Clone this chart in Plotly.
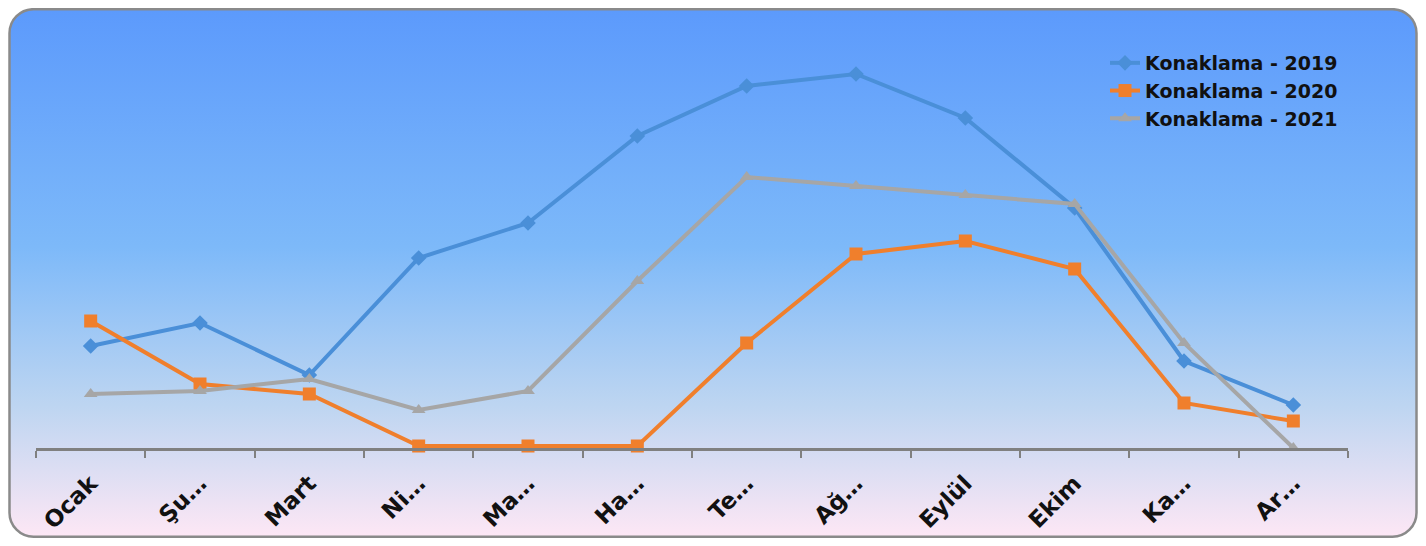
import plotly.graph_objects as go
import urllib.parse

months = ["Ocak", "Şubat", "Mart", "Nisan", "Mayıs", "Haziran", "Temmuz",
          "Ağustos", "Eylül", "Ekim", "Kasım", "Aralık"]
tick_labels = ["Ocak", "Şu…", "Mart", "Ni…", "Ma…", "Ha…", "Te…",
               "Ağ…", "Eylül", "Ekim", "Ka…", "Ar…"]
konaklama_2019 = [102, 125, 73, 190, 225, 312, 362, 374, 330, 240, 87, 43]
konaklama_2020 = [127, 64, 54, 2, 2, 2, 105, 194, 207, 179, 45, 27]
konaklama_2021 = [54, 57, 69, 38, 57, 167, 271, 262, 253, 244, 105, 0]

# page has an 8px body margin; figure fills the rest of the 1426x546 window
W, H = 1410, 530
ml, mr, mt, mb = 28, 70, 40, 90
pw, ph = W - ml - mr, H - mt - mb

svg = f'''<svg xmlns="http://www.w3.org/2000/svg" width="{W}" height="{H}" viewBox="0 0 {W} {H}">
<defs><linearGradient id="g" x1="0" y1="0" x2="0" y2="1">
<stop offset="0" stop-color="#5c9afc"/>
<stop offset="0.45" stop-color="#7db9f9"/>
<stop offset="0.75" stop-color="#bdd5f1"/>
<stop offset="1" stop-color="#fde7f5"/>
</linearGradient></defs>
<rect x="1.5" y="1.2" width="1407" height="527.5" rx="24" ry="24" fill="url(#g)" stroke="#8a8a8a" stroke-width="2.5"/>
</svg>'''
bg_src = "data:image/svg+xml;charset=utf-8," + urllib.parse.quote(svg)

fig = go.Figure()
fig.add_trace(go.Scatter(x=months, y=konaklama_2019, name="Konaklama - 2019",
                         mode="lines+markers", legendgroup="a",
                         line=dict(color="#4a8fd8", width=4),
                         marker=dict(symbol="diamond", size=12, color="#4a8fd8"),
                         cliponaxis=False))
fig.add_trace(go.Scatter(x=months, y=konaklama_2020, name="Konaklama - 2020",
                         mode="lines+markers", legendgroup="b",
                         line=dict(color="#f07f2c", width=4),
                         marker=dict(symbol="square", size=13, color="#f07f2c"),
                         cliponaxis=False))
fig.add_trace(go.Scatter(x=months, y=konaklama_2021, name="Konaklama - 2021",
                         mode="lines+markers", legendgroup="c",
                         line=dict(color="#a6a6a6", width=4),
                         marker=dict(symbol="triangle-up", size=12, color="#a6a6a6"),
                         cliponaxis=False))

fig.update_layout(
    width=W, height=H,
    margin=dict(l=ml, r=mr, t=mt, b=mb, autoexpand=False),
    paper_bgcolor="white",
    plot_bgcolor="rgba(0,0,0,0)",
    font=dict(family="DejaVu Sans", color="#111111"),
    showlegend=True,
    legend=dict(x=(1097 - ml) / pw, y=1 + (mt - 36) / ph, xanchor="left", yanchor="top",
                bgcolor="rgba(0,0,0,0)", tracegroupgap=0, traceorder="grouped",
                font=dict(family="DejaVu Sans", size=19, color="#111111", weight="bold")),
    images=[dict(source=bg_src, xref="paper", yref="paper",
                 x=-ml / pw, y=1 + mt / ph, sizex=W / pw, sizey=H / ph,
                 xanchor="left", yanchor="top", sizing="stretch", layer="below")],
    xaxis=dict(type="category", tickmode="array", tickvals=months, ticktext=tick_labels,
               tickangle=-45, tickson="boundaries", ticks="outside", ticklen=7,
               tickcolor="#808080", tickwidth=1.5, ticklabelstandoff=10,
               automargin=False,
               showline=True, linecolor="#808080", linewidth=2.5,
               showgrid=False, zeroline=False, range=[-0.5, 11.5],
               tickfont=dict(family="DejaVu Sans", size=23, color="#111111", weight="bold")),
    yaxis=dict(range=[0, 400], visible=False, showgrid=False, zeroline=False,
               automargin=False),
)

fig.write_html("out.html")
